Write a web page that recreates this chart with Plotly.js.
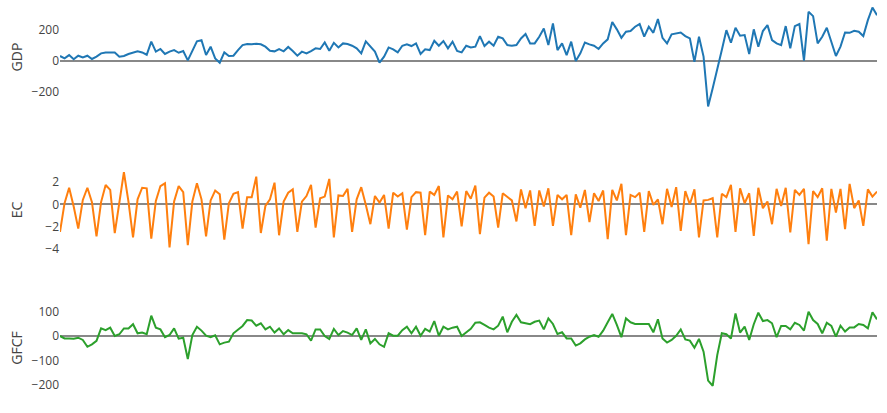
<!DOCTYPE html>
<html>
<head>
<meta charset="utf-8">
<script src="https://cdn.plot.ly/plotly-3.0.1.min.js"></script>
<style>html,body{margin:0;padding:0;background:#fff;}#chart{width:887px;height:413px;}</style>
</head>
<body>
<div id="chart"></div>
<script>
// Series names (y-axis titles)
const seriesNames = ["GDP", "EC", "GFCF"];

// GDP values (180 periods)
const gdp = [
  32,17,38,11,34,23,34,13,28,49,
  55,53,55,28,32,45,55,62,55,40,
  124,60,77,45,60,70,53,64,4,60,
  126,134,38,92,17,-11,55,32,34,70,
  102,109,107,111,107,92,66,62,77,62,90,
  64,34,60,49,64,81,77,119,66,
  117,87,113,109,98,81,49,126,92,60,
  -11,28,87,75,55,98,107,96,113,45,
  75,70,130,98,128,81,124,64,55,98,
  87,92,160,96,124,98,156,145,102,98,
  102,145,173,113,113,156,209,102,241,70,
  113,38,124,0,
  49,119,107,98,77,113,139,250,203,149,
  188,192,220,237,156,220,181,269,149,113,
  171,177,183,160,145,-6,156,28,-292,-175,
  -58,70,198,117,213,162,166,45,203,92,
  192,230,134,113,102,224,81,224,237,2,
  316,288,113,156,213,124,32,92,183,181,
  194,188,160,262,343,294
];

// EC values
const ec = [
  -2.5,0.1,1.5,-0.2,-2.2,0.4,1.5,0.2,-2.9,0.2,
  1.75,1.3,-2.6,0.3,2.9,0.25,-3.0,0.45,1.5,1.45,
  -3.1,0.3,1.65,1.9,-3.9,0.25,1.65,1.1,-3.7,0.25,
  1.9,0.45,-2.9,0.35,1.25,0.9,-3.2,0.1,0.95,1.1,
  -2.2,0.65,0.65,2.5,-2.6,-0.15,0.45,1.96,-2.8,0.25,1.05,
  1.35,-2.5,0.25,0.75,1.75,-2.1,0.55,0.7,2.3,
  -3.0,0.8,0.75,1.4,-2.5,0.45,1.55,-0.05,-1.8,0.75,
  0.15,0.85,-2.2,1.05,0.7,1.0,-2.3,0.65,1.1,1.05,
  -2.8,1.15,0.85,1.65,-3.0,0.8,0.45,1.15,-2.0,1.2,
  0.5,1.7,-2.7,0.6,1.05,0.7,-2.1,1.0,0.7,0.35,
  -1.55,1.35,-0.35,1.25,-1.95,1.25,-0.2,1.45,-1.95,0.85,
  0.45,0.85,-2.8,0.9,
  -0.3,1.3,-1.6,1.0,0.3,1.25,-3.15,1.3,0.35,1.85,
  -2.8,0.85,0.65,1.05,-2.5,1.2,-0.05,0.45,-1.8,1.4,
  -0.25,1.55,-2.4,1.2,0.0,1.35,-3.0,0.35,0.4,0.55,
  -3.0,0.95,0.65,1.75,-2.5,1.45,0.1,1.0,-2.85,1.5,
  -0.35,0.25,-1.8,1.4,-0.15,1.5,-2.55,1.3,0.85,1.4,
  -3.6,1.2,0.65,1.45,-3.3,1.4,-0.75,1.4,-2.25,1.85,
  -0.35,0.35,-1.95,1.35,0.7,1.15
];

// GFCF values
const gfcf = [
  0,-10,-10,-11,-7,-16,-44,-34,-20,31,
  24,34,0,7,31,31,48,11,14,7,
  83,34,27,-5,4,31,-11,-7,-94,4,
  38,22,1,-5,3,-34,-27,-23,11,27,
  41,65,63,42,52,27,38,14,31,7,24,
  11,11,11,7,-19,27,27,0,-12,
  29,4,20,14,4,31,-16,27,-30,-12,
  -34,-44,11,1,1,24,38,11,38,1,
  29,18,61,1,38,27,34,38,0,15,
  29,54,56,45,34,27,42,79,15,58,
  86,56,52,48,58,63,27,72,49,8,
  15,-10,-10,-39,-30,-14,-3,
  4,-3,22,56,90,45,-5,72,56,49,
  49,49,49,15,68,-10,-27,-16,1,27,
  -14,-19,-48,-12,-64,-182,-203,-78,11,7,
  -10,92,14,38,-16,48,95,61,65,52,
  -5,41,41,27,54,45,22,99,65,49,
  11,54,41,-3,42,18,35,35,49,45,
  31,97,68
];

const periods = gdp.map((_, i) => i);

const colors = ["#1f77b4", "#ff7f0e", "#2ca02c"];
const seriesList = [gdp, ec, gfcf];

const traces = seriesList.map((s, k) => ({
  x: periods,
  y: s,
  type: "scatter",
  mode: "lines",
  line: {color: colors[k], width: 2},
  xaxis: k === 0 ? "x" : "x" + (k + 1),
  yaxis: k === 0 ? "y" : "y" + (k + 1),
  showlegend: false,
  hoverinfo: "skip"
}));

const xBase = {range: [0, periods.length - 1], visible: false, showgrid: false, zeroline: false};
const yBase = {
  showgrid: false,
  zeroline: true,
  zerolinecolor: "#888",
  zerolinewidth: 2,
  showline: false,
  ticks: "",
  tickfont: {family: "Open Sans, sans-serif", size: 12, color: "#444"},
  title: {font: {family: "Open Sans, sans-serif", size: 14, color: "#444"}}
};

const layout = {
  width: 887,
  height: 413,
  margin: {l: 60, r: 10, t: 0, b: 0},
  paper_bgcolor: "#fff",
  plot_bgcolor: "#fff",
  showlegend: false,
  xaxis: Object.assign({}, xBase, {domain: [0, 1], anchor: "y"}),
  xaxis2: Object.assign({}, xBase, {domain: [0, 1], anchor: "y2"}),
  xaxis3: Object.assign({}, xBase, {domain: [0, 1], anchor: "y3"}),
  yaxis: Object.assign({}, yBase, {
    domain: [0.7288, 0.9952], range: [-327.4, 378.8], dtick: 200, anchor: "x",
    title: Object.assign({}, yBase.title, {text: seriesNames[0]})
  }),
  yaxis2: Object.assign({}, yBase, {
    domain: [0.3898, 0.5932], range: [-4.317, 3.285], dtick: 2, anchor: "x2",
    title: Object.assign({}, yBase.title, {text: seriesNames[1]})
  }),
  yaxis3: Object.assign({}, yBase, {
    domain: [0.0533, 0.2615], range: [-224.4, 126.5], dtick: 100, anchor: "x3",
    title: Object.assign({}, yBase.title, {text: seriesNames[2]})
  })
};

Plotly.newPlot("chart", traces, layout, {displayModeBar: false, staticPlot: true});
</script>
</body>
</html>
